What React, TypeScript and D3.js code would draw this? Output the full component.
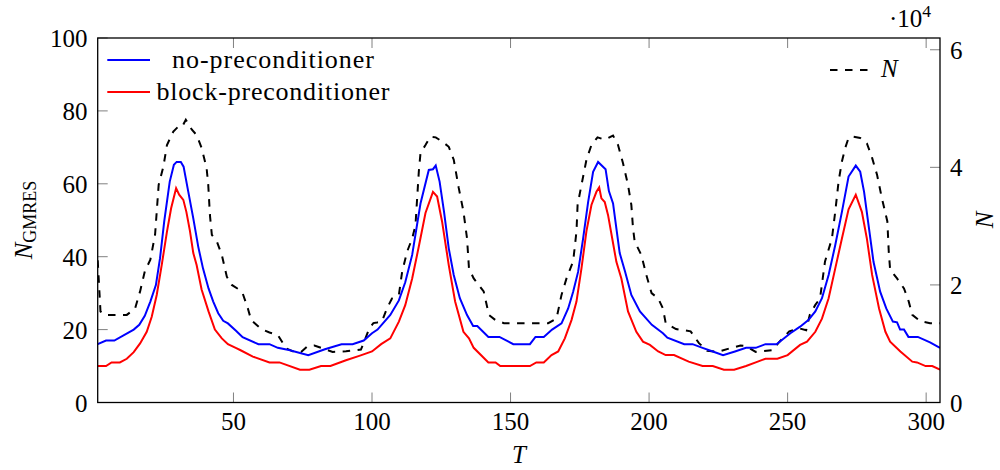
import React from "react";
import * as d3 from "d3";

// ---------- data ----------
const tNoPre = [1,4,7,14,16,18,20,22,23.5,25,27,28.5,29.5,31,32,33.7,35.5,37.3,39,41,42.7,44.5,46.3,48,51,53.3,59,63,66,70,77,83,89,93,97,100,102,106.6,109.7,112,114.5,117.5,120.5,122,123,124.4,126,127.7,129.5,131.7,134.3,136.5,138,142,146,151,154,157,159,162,165,168.4,170.8,172.6,174.4,176.2,178,179.8,181.6,184.3,185.5,187,188.2,189.4,191.3,193.6,196.7,201,205,206.6,212.7,215.7,219.3,223,226.7,231,235,238.5,242,246,251,254.5,257.5,260,262.4,264.8,267.2,269.6,272,274.6,276.2,277.6,279.2,281,283.4,285.6,288,289.5,290.6,292,293.6,297,301.4,305];
const noPre = [16,17,17,20,21.3,23.8,27.7,32.2,39.6,49.6,60.6,65.2,66,66,64.7,57.8,50.5,42.7,36.8,31.3,27.7,24.5,22.4,21.7,19.6,17.9,16,16,15,14.4,13,14.6,16,16,17,19,20,24,28,33,40.5,54.6,63.8,64,65,60.6,52.3,42.3,35,28.6,24,21,21,18,18,16,16,16,18,18,20,21.7,25.8,30.4,35.9,45,55,63.3,66,64,58,54.6,47.8,41,36,29.5,25,21.3,19,17.8,16,16,15,14,13,14,15,15,16,16,19,20.8,22.6,25,28.6,35,43.2,52.3,62,65,63.3,57.8,48.7,38.6,30.4,25.8,22.2,22,20,20,18,18,16.5,15];

const tBlock = [1,4,6,9,11.5,14,16.3,18.7,20.5,22.3,24.1,26,27.5,29.3,30.4,31.9,33,34.3,35.5,36.7,38.5,41,43.3,45.8,48,51,52.4,57,63,66.6,74,77.4,81.6,85,90.6,95.4,100,103.3,106.6,109.7,112,114.5,117,119.3,122,123.5,125.3,127.7,130,133,135,136.7,142,144.6,146.3,157,159.3,162,164.8,167.2,169.6,172,173.8,175.6,177.4,179.2,181,182,182.8,184,185.2,186.7,188.2,190,192.4,195.4,197.8,200.3,203.3,206,209,214.3,219.3,223,227,230.7,235,238.5,242,246.3,250,254.5,257,260,262.4,264.8,267.2,269.6,272,274.6,276.8,278.6,280.5,283,285.3,287,290.7,295,296.7,299.8,302.2,305];
const blockPre = [10,10,11,11,12,13.8,16.2,19.4,23.5,29.5,37.7,46.9,53.3,58.8,57,55.6,52.3,47,41,37.7,31,25,20,17.6,16,14.9,14.4,12.6,11,11,9,9,10,10,11.6,12.8,14,16,17.6,22.2,26.7,34,43.2,52,57.8,56.5,49.6,37.7,27.7,19.4,17.6,15,11,11,10,10,11,11,13,14,17.6,22.6,27.7,36.8,47,54.2,57.8,59,56,55,51.4,45,38.6,34,25,19.4,16.7,15.8,14,13,13,11.2,10,10,9,9,10,11,12,12,13,15.8,16.7,19.4,23,28.6,36.8,45,53,57,52.3,45,35,25.8,19.4,16.7,14,11.2,11,10,10,9];

// N in units of 10^4
const tN = [1,2,3.6,11.5,14.5,16.3,18,20,21.7,23,24.7,26,28.3,30,31.5,32.8,35,36.7,38.5,40.3,40.9,41.5,42.2,44,45.8,47.6,49.4,52.4,53.3,55.2,56.4,60,63,66,69,72,74.4,76.8,79.2,82.2,85.8,90.6,96,97.2,99,100.5,101.8,103.6,105.4,107.2,109.7,110.9,112.7,114.5,115.7,116.3,116.9,117.5,119.3,121,123,125.3,127.7,129.5,131.3,133,134.3,135,136.7,140.3,142.2,144.6,147.6,163.6,166.6,168.4,170.2,172.6,173.8,174.2,175.6,177.4,179.2,181.4,184,187,188.8,190.6,192.4,193.6,194.2,194.8,197.2,199,200.9,203.3,205,206,209.7,215,218,221,224.7,229,233,235,238.5,244.5,247,250.6,254.3,256.7,258,260,261.7,263.5,266,267.2,268.4,269.6,270.8,272,273.8,276.2,278.6,280.5,282.3,284,286,286.5,287,289.5,292,293.7,295,298,301.4,305];
const nVals = [2.42,1.55,1.49,1.49,1.6,1.89,2.23,2.43,2.85,3.7,4.01,4.38,4.61,4.69,4.69,4.81,4.64,4.55,4.33,3.99,3.7,3.19,2.85,2.74,2.51,2.14,2.0,1.91,1.86,1.6,1.4,1.25,1.19,1.15,0.92,0.86,0.86,0.96,0.97,0.92,0.86,0.87,0.9,1.04,1.26,1.35,1.36,1.38,1.6,1.77,1.83,2.23,2.57,2.79,3.02,3.48,3.93,4.24,4.38,4.52,4.51,4.44,4.35,4.13,3.65,3.25,2.79,2.28,2.11,1.89,1.49,1.4,1.35,1.35,1.43,1.83,2.11,2.4,2.91,3.36,3.7,4.13,4.38,4.51,4.47,4.54,4.38,4.07,3.7,3.36,2.97,2.74,2.51,2.17,1.86,1.77,1.6,1.35,1.25,1.21,1.01,0.88,0.86,0.92,0.97,0.96,0.86,0.89,1.03,1.21,1.26,1.23,1.49,1.66,1.77,2.4,2.79,3.25,3.76,4.1,4.33,4.5,4.52,4.5,4.41,4.16,3.87,3.48,3.08,2.57,2.26,2.11,1.94,1.72,1.49,1.38,1.35,1.35];

const xTicks = [50, 100, 150, 200, 250, 300];
const yLeftTicks = [0, 20, 40, 60, 80, 100];
const yRightTicks = [0, 2, 4, 6];
const legendLeft = ["no-preconditioner", "block-preconditioner"];
const legendRight = "N";

// ---------- layout ----------
const PL = 97.7, PR = 940, PT = 38, PB = 402.5;
const FONT = "Liberation Serif, DejaVu Serif, serif";

export default function App() {
  const x = d3.scaleLinear().domain([1, 305]).range([PL, PR]);
  const yL = d3.scaleLinear().domain([0, 100]).range([PB, PT]);
  const yR = d3.scaleLinear().domain([0, 6.2]).range([PB, PT]);

  const mk = (ts: number[], vs: number[], sc: d3.ScaleLinear<number, number>) =>
    d3.line<number>().x((_, i) => x(ts[i])).y((v) => sc(v))(vs) || "";

  const blueD = mk(tNoPre, noPre, yL);
  const redD = mk(tBlock, blockPre, yL);
  const nD = mk(tN, nVals, yR);

  const tickLen = 10;
  const tickColor = "#808080";
  const txt = { fontFamily: FONT };

  return (
    <svg width={1000} height={470} style={{ position: "absolute", left: 0, top: 0, background: "#fff", fontFamily: FONT }}>
      <defs>
        <clipPath id="plot">
          <rect x={PL} y={PT} width={PR - PL} height={PB - PT} />
        </clipPath>
      </defs>

      {/* ticks */}
      {xTicks.map((t) => (
        <g key={"xt" + t}>
          <line x1={x(t)} x2={x(t)} y1={PB} y2={PB - tickLen} stroke={tickColor} strokeWidth={1} />
          <line x1={x(t)} x2={x(t)} y1={PT} y2={PT + tickLen} stroke={tickColor} strokeWidth={1} />
          <text style={txt} x={x(t)} y={430} textAnchor="middle" fontSize={25}>{t}</text>
        </g>
      ))}
      {yLeftTicks.map((t) => (
        <g key={"yl" + t}>
          <line x1={PL} x2={PL + tickLen} y1={yL(t)} y2={yL(t)} stroke={tickColor} strokeWidth={1} />
          <text style={txt} x={87.5} y={yL(t) + 9} textAnchor="end" fontSize={25}>{t}</text>
        </g>
      ))}
      {yRightTicks.map((t) => (
        <g key={"yr" + t}>
          <line x1={PR} x2={PR - tickLen} y1={yR(t)} y2={yR(t)} stroke={tickColor} strokeWidth={1} />
          <text style={txt} x={950} y={yR(t) + 9} textAnchor="start" fontSize={25}>{t}</text>
        </g>
      ))}

      {/* series */}
      <g clipPath="url(#plot)">
        <path d={nD} fill="none" stroke="#000" strokeWidth={2} strokeDasharray="7.5 7.5" />
        <path d={blueD} fill="none" stroke="#0000ff" strokeWidth={2} />
        <path d={redD} fill="none" stroke="#ff0000" strokeWidth={2} />
      </g>

      {/* frame */}
      <rect x={PL} y={PT} width={PR - PL} height={PB - PT} fill="none" stroke="#000" strokeWidth={1.3} />

      {/* legends */}
      <line x1={107.3} x2={150} y1={60} y2={60} stroke="#0000ff" strokeWidth={2} />
      <text style={txt} x={273} y={68.3} textAnchor="middle" fontSize={26} textLength={202} lengthAdjust="spacing">{legendLeft[0]}</text>
      <line x1={107.3} x2={150} y1={92} y2={92} stroke="#ff0000" strokeWidth={2} />
      <text style={txt} x={273} y={100} textAnchor="middle" fontSize={26} textLength={233} lengthAdjust="spacing">{legendLeft[1]}</text>

      <line x1={830} x2={868.3} y1={70} y2={70} stroke="#000" strokeWidth={2} strokeDasharray="7.5 7.5" />
      <text style={txt} x={881} y={77.3} fontSize={25} fontStyle="italic">{legendRight}</text>

      {/* axis labels */}
      <text style={txt} x={519} y={463} textAnchor="middle" fontSize={25} fontStyle="italic">T</text>
      <g transform="translate(32,220) rotate(-90)">
        <text style={txt} x={0} y={0} textAnchor="middle" fontSize={25}>
          <tspan fontStyle="italic">N</tspan>
          <tspan fontSize={18} dy={4}>GMRES</tspan>
        </text>
      </g>
      <g transform="translate(993,220) rotate(-90)">
        <text style={txt} x={0} y={0} textAnchor="middle" fontSize={25} fontStyle="italic">N</text>
      </g>

      {/* exponent */}
      <text style={txt} x={889} y={26.7} fontSize={25}>
        ·10<tspan fontSize={17.5} dy={-10}>4</tspan>
      </text>
    </svg>
  );
}
